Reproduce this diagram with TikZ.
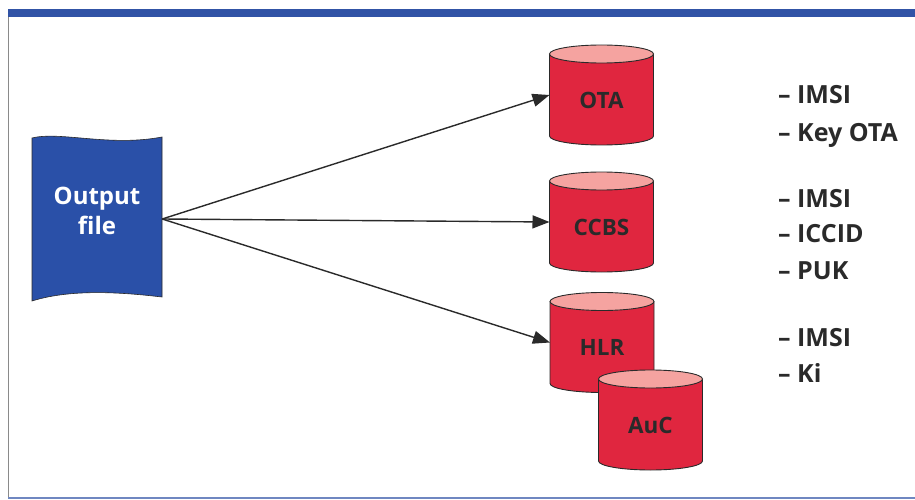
\documentclass[tikz,border=0pt]{standalone}
\usepackage{fontspec}
\setmainfont{Open Sans}
\usetikzlibrary{arrows.meta}
\definecolor{framebl}{HTML}{3153A6}
\definecolor{framegr}{HTML}{8A8A8A}
\definecolor{docbl}{HTML}{2A50A8}
\definecolor{cylred}{HTML}{E0263F}
\definecolor{cyltop}{HTML}{F5A3A0}
\definecolor{inkc}{HTML}{2A2A2A}
\tikzset{
  cylbox/.style={rectangle, minimum width=104pt, minimum height=100pt, inner sep=0pt, outer sep=0pt},
  cyltext/.style={font=\bfseries\fontsize{22.5}{27}\selectfont, text=inkc, inner sep=0pt},
  listtext/.style={font=\bfseries\fontsize{25}{30}\selectfont, text=inkc, anchor=base west, inner sep=0pt},
  conn/.style={draw=inkc, line width=1.4pt, -{Triangle[length=17pt,width=13pt]}},
  cylline/.style={draw=inkc, line width=0.9pt},
}
\newcommand{\drawcyl}[1]{%
  \fill[cylred] ([yshift=-9pt]#1.north west) -- ([yshift=9pt]#1.south west)
     arc[start angle=180, end angle=360, x radius=52pt, y radius=9pt]
     -- ([yshift=-9pt]#1.north east) -- cycle;
  \draw[cylline] ([yshift=-9pt]#1.north west) -- ([yshift=9pt]#1.south west)
     arc[start angle=180, end angle=360, x radius=52pt, y radius=9pt]
     -- ([yshift=-9pt]#1.north east);
  \draw[cylline, fill=cyltop] ([yshift=-9pt]#1.north) ellipse[x radius=52pt, y radius=9pt];
}
\begin{document}
\begin{tikzpicture}[x=1pt,y=1pt]
\useasboundingbox (0,0) rectangle (915,499);
% frame
\fill[framebl] (8,482) rectangle (915,490);
\draw[framegr, line width=1.2pt] (8.6,482) -- (8.6,2);
\draw[framebl!70, line width=2pt] (8,1) -- (915,1);
% output file document
\node[rectangle, minimum width=130pt, minimum height=162pt, inner sep=0pt] (doc) at (97,280) {};
\fill[docbl, draw=inkc, line width=0.6pt]
  (32,361) .. controls (60,368) and (110,352) .. (162,362)
  -- (162,202) .. controls (120,207) and (70,210) .. (32,198) -- cycle;
\node[font=\bfseries\fontsize{24}{30}\selectfont, text=white, align=center] (doctext) at (97,288) {Output\\file};
% cylinders
\node[cylbox] (ota) at (601.5,404) {};
\drawcyl{ota}
\node[cyltext] (otatext) at ([yshift=-5pt]ota.center) {OTA};
\node[cylbox] (ccbs) at (601.5,277) {};
\drawcyl{ccbs}
\node[cyltext] (ccbstext) at ([yshift=-5pt]ccbs.center) {CCBS};
\node[cylbox] (hlr) at (602,156.5) {};
\drawcyl{hlr}
\node[cyltext] (hlrtext) at ([yshift=-5pt]hlr.center) {HLR};
\node[cylbox] (auc) at (650.5,79) {};
\drawcyl{auc}
\node[cyltext] (auctext) at ([yshift=-5pt]auc.center) {AuC};
% connectors
\draw[conn] (doc.east) -- (ota.west);
\draw[conn] (doc.east) -- (ccbs.west);
\draw[conn] (doc.east) -- (hlr.west);
% lists
\node[listtext] (l1) at (778,395) {– IMSI};
\node[listtext] (l2) at (778,357) {– Key OTA};
\node[listtext] (l3) at (778,292) {– IMSI};
\node[listtext] (l4) at (778,257) {– ICCID};
\node[listtext] (l5) at (778,220) {– PUK};
\node[listtext] (l6) at (778,153) {– IMSI};
\node[listtext] (l7) at (778,117) {– Ki};
\end{tikzpicture}
\end{document}
